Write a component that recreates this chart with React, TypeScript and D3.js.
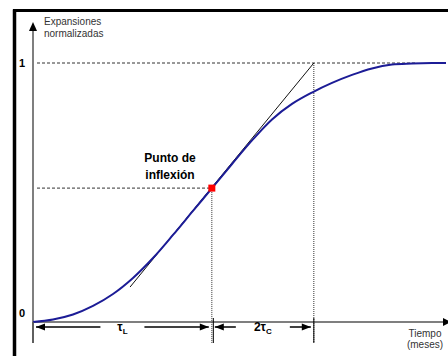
import React from 'react';
import * as d3 from 'd3';

// curve (time in arbitrary units 0..100, normalized expansion 0..1)
const timeValues = [0, 4.84, 9.69, 14.53, 19.37, 24.21, 29.06, 33.9, 38.74, 43.34, 48.18, 53.03, 57.87, 62.71, 67.55, 72.4, 77.24, 82.08, 86.92, 91.77, 96.61, 100];
const expansionValues = [0, 0.0097, 0.029, 0.062, 0.108, 0.17, 0.247, 0.336, 0.429, 0.517, 0.61, 0.701, 0.782, 0.842, 0.886, 0.923, 0.954, 0.979, 0.994, 0.998, 1.0, 1.0];

const inflection = [43.3, 0.517];
const tangentX = [23.5, 68.0];
const tangentY = [0.135, 1.0];
const yTickValues = [0, 1];
const tauLRange = [0, 43.3];
const tauCRange = [43.3, 68.0];

const W = 448;
const H = 356;

const App: React.FC = () => {
  const x = d3.scaleLinear().domain([0, 100]).range([33, 446]);
  const y = d3.scaleLinear().domain([0, 1]).range([322, 63]);

  const pts = timeValues.map((t, i) => [t, expansionValues[i]] as [number, number]);
  const curve = d3.line<[number, number]>()
    .x(d => x(d[0]))
    .y(d => y(d[1]))
    .curve(d3.curveCatmullRom.alpha(0.5))(pts) || '';

  const axisColor = '#555';
  const dashColor = '#333';
  const arrowY = 327;
  const tickBottom = 343;

  const arrowHead = (tipX: number, dir: number) => {
    // dir = -1 points left, 1 points right
    const len = 9;
    const half = 3.5;
    return `M${tipX},${arrowY} L${tipX - dir * len},${arrowY - half} L${tipX - dir * len},${arrowY + half} Z`;
  };

  const dimension = (range: number[], gap: number, label: React.ReactNode, key: string) => {
    const x0 = x(range[0]) + 3;
    const x1 = x(range[1]) - 3;
    const mid = (x(range[0]) + x(range[1])) / 2;
    return (
      <g key={key}>
        <line x1={x0} x2={mid - gap} y1={arrowY} y2={arrowY} stroke="#000" strokeWidth={1.5} />
        <line x1={mid + gap} x2={x1} y1={arrowY} y2={arrowY} stroke="#000" strokeWidth={1.5} />
        <path d={arrowHead(x0, -1)} fill="#000" />
        <path d={arrowHead(x1, 1)} fill="#000" />
        <text x={mid} y={arrowY + 4} textAnchor="middle" fontSize={12} fontWeight="bold" fill="#000">{label}</text>
      </g>
    );
  };

  return (
    <svg width={W} height={H} style={{ position: 'absolute', left: 0, top: 0, background: '#fff' }}
      fontFamily="'Liberation Sans', Arial, sans-serif">
      <rect x={0} y={0} width={W} height={H} fill="#fff" />
      {/* frame */}
      <line x1={14.5} x2={14.5} y1={9.5} y2={H} stroke="#000" strokeWidth={3.5} />
      <line x1={13} x2={W} y1={10.5} y2={10.5} stroke="#000" strokeWidth={3} />

      {/* reference dashed lines */}
      <line x1={x(0) + 4} x2={x(93)} y1={y(1)} y2={y(1)} stroke={dashColor} strokeWidth={1} strokeDasharray="3,2" />
      <line x1={x(0) + 4} x2={x(inflection[0])} y1={y(inflection[1])} y2={y(inflection[1])} stroke={dashColor} strokeWidth={1} strokeDasharray="3,2" />
      <line x1={x(inflection[0])} x2={x(inflection[0])} y1={y(inflection[1])} y2={tickBottom} stroke={dashColor} strokeWidth={1} strokeDasharray="1,1" />
      <line x1={x(tauCRange[1])} x2={x(tauCRange[1])} y1={y(1)} y2={tickBottom} stroke={dashColor} strokeWidth={1} strokeDasharray="1,1" />

      {/* axes */}
      <line x1={x(0)} x2={x(0)} y1={tickBottom} y2={30} stroke={axisColor} strokeWidth={1.5} />
      <path d={`M${x(0)},22 L${x(0) - 4},31 L${x(0) + 4},31 Z`} fill="#000" />
      <line x1={x(0)} x2={W} y1={y(0)} y2={y(0)} stroke={axisColor} strokeWidth={1.5} />
      <path d={`M${W + 3},${y(0)} L${W - 5},${y(0) - 4} L${W - 5},${y(0) + 4} Z`} fill="#000" />

      {yTickValues.map(v => (
        <text key={v} x={22} y={v === 0 ? 317 : y(v) + 4} textAnchor="middle" fontSize={11} fontWeight="bold" fill="#000">{v}</text>
      ))}

      <text x={44} y={25} fontSize={10} fill="#333">Expansiones</text>
      <text x={44} y={37} fontSize={10} fill="#333">normalizadas</text>

      <text x={425} y={337} textAnchor="middle" fontSize={10} fill="#333">Tiempo</text>
      <text x={425} y={348} textAnchor="middle" fontSize={10} fill="#333">(meses)</text>

      {/* tangent */}
      <line x1={x(tangentX[0])} x2={x(tangentX[1])} y1={y(tangentY[0])} y2={y(tangentY[1])} stroke="#111" strokeWidth={1} />

      {/* curve */}
      <path d={curve} fill="none" stroke="#1c1c96" strokeWidth={2} />

      {/* inflection point */}
      <rect x={x(inflection[0]) - 3.5} y={y(inflection[1]) - 3.5} width={7} height={7} fill="#ff0000" />
      <text x={170} y={162} textAnchor="middle" fontSize={12} fontWeight="bold" fill="#000">Punto de</text>
      <text x={170} y={179} textAnchor="middle" fontSize={12} fontWeight="bold" fill="#000">inflexión</text>

      {/* dimension markers */}
      <line x1={x(0)} x2={x(0)} y1={y(0)} y2={tickBottom} stroke={axisColor} strokeWidth={1.5} />
      <line x1={x(tauLRange[1]) + 1.5} x2={x(tauLRange[1]) + 1.5} y1={318} y2={tickBottom} stroke="#000" strokeWidth={1} />
      <line x1={x(tauCRange[1])} x2={x(tauCRange[1])} y1={318} y2={tickBottom} stroke="#000" strokeWidth={1} />
      {dimension(tauLRange, 22, <>τ<tspan fontSize={8} dy={3}>L</tspan></>, 'l')}
      {dimension(tauCRange, 27, <>2τ<tspan fontSize={8} dy={3}>C</tspan></>, 'c')}
    </svg>
  );
};

export default App;
